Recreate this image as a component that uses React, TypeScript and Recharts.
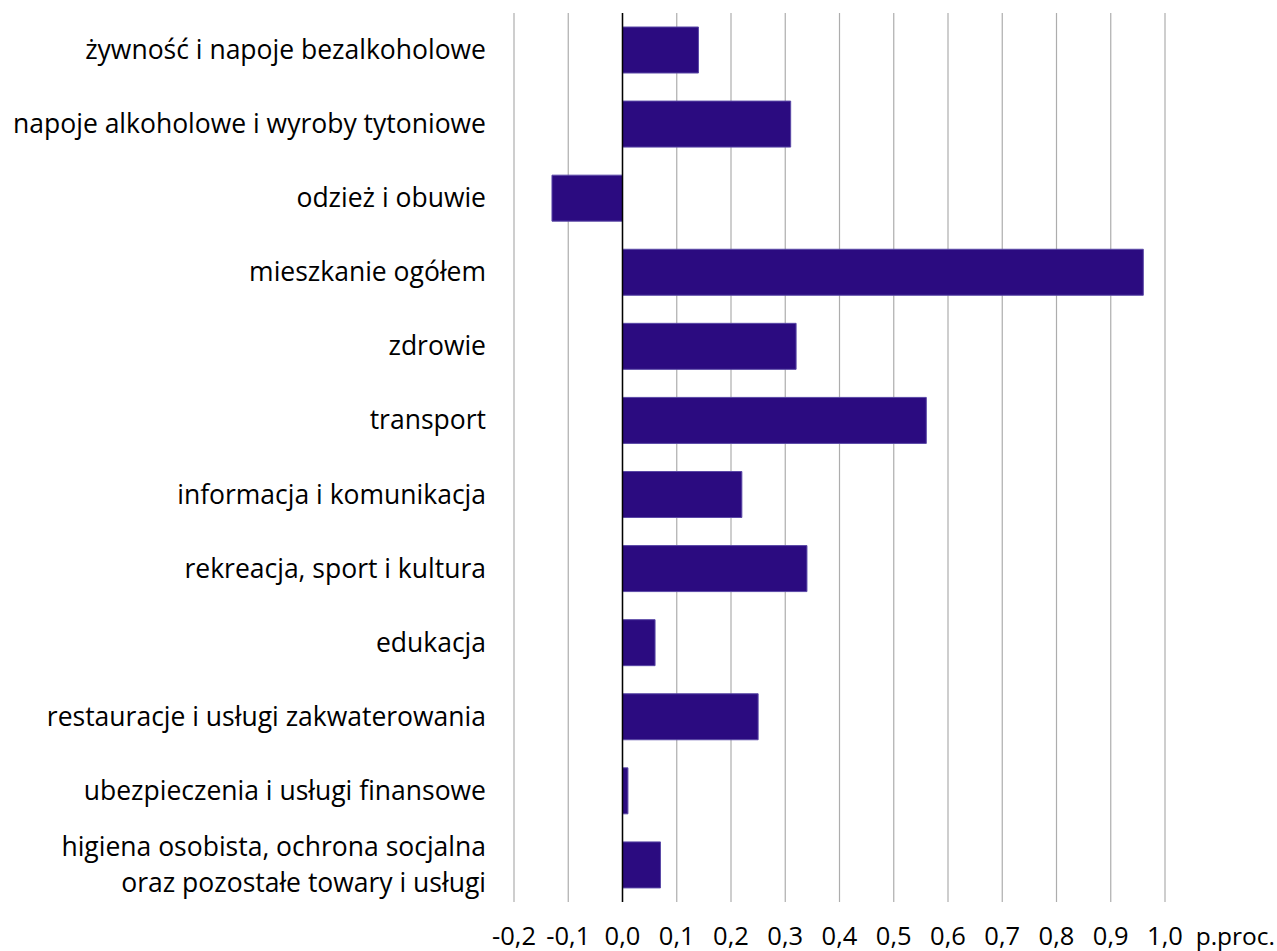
import React from 'react';
import { BarChart, Bar, XAxis, YAxis, CartesianGrid, ReferenceLine, Label } from 'recharts';

const categories: string[] = [
  'żywność i napoje bezalkoholowe',
  'napoje alkoholowe i wyroby tytoniowe',
  'odzież i obuwie',
  'mieszkanie ogółem',
  'zdrowie',
  'transport',
  'informacja i komunikacja',
  'rekreacja, sport i kultura',
  'edukacja',
  'restauracje i usługi zakwaterowania',
  'ubezpieczenia i usługi finansowe',
  'higiena osobista, ochrona socjalna\noraz pozostałe towary i usługi',
];

const values: number[] = [0.14, 0.31, -0.13, 0.96, 0.32, 0.56, 0.22, 0.34, 0.06, 0.25, 0.01, 0.07];

const xTicks: number[] = [-0.2, -0.1, 0.0, 0.1, 0.2, 0.3, 0.4, 0.5, 0.6, 0.7, 0.8, 0.9, 1.0];

const unitLabel = 'p.proc.';

const data = categories.map((c, i) => ({ name: c, value: values[i] }));

const FONT = '"Open Sans", sans-serif';

const fmt = (v: number) => v.toFixed(1).replace('.', ',');

const XTick = (props: any) => {
  const { x, y, payload } = props;
  return (
    <text x={x} y={y} dy={35} textAnchor="middle" fontFamily={FONT} fontSize={25.5} fill="#000">
      {fmt(payload.value)}
    </text>
  );
};

const YTick = (props: any) => {
  const { x, y, payload } = props;
  const lines = String(payload.value).split('\n');
  const lh = 36;
  const start = -((lines.length - 1) * lh) / 2;
  return (
    <text x={x} y={y} textAnchor="end" fontFamily={FONT} fontSize={26.5} fill="#000">
      {lines.map((l, i) => (
        <tspan key={i} x={x} dy={i === 0 ? start + 9 : lh}>
          {l}
        </tspan>
      ))}
    </text>
  );
};

const UnitLabel = (props: any) => {
  const vb = props.viewBox || {};
  return (
    <text x={vb.x + vb.width + 110} y={vb.y + 43} textAnchor="end" fontFamily={FONT} fontSize={24.5} fill="#000">
      {unitLabel}
    </text>
  );
};

export default function App() {
  return (
    <div style={{ position: 'absolute', left: 0, top: 0, width: 1277, height: 951, background: '#fff' }}>
      <BarChart
        width={1277}
        height={951}
        data={data}
        layout="vertical"
        margin={{ top: 13, right: 112, bottom: 19, left: 0 }}
        barSize={46}
      >
        <CartesianGrid horizontal={false} vertical={true} stroke="#adadad" strokeWidth={1.2} />
        <XAxis
          type="number"
          dataKey="value"
          domain={[-0.2, 1.0]}
          ticks={xTicks}
          interval={0}
          axisLine={false}
          tickLine={false}
          height={30}
          tick={<XTick />}
        >
          <Label content={<UnitLabel />} />
        </XAxis>
        <YAxis
          type="category"
          dataKey="name"
          width={514}
          axisLine={false}
          tickLine={false}
          tickMargin={22}
          interval={0}
          tick={<YTick />}
        />
        <Bar dataKey="value" fill="#2b0b80" stroke="#5a48a6" strokeWidth={1} isAnimationActive={false} />
        <ReferenceLine x={0} stroke="#000" strokeWidth={1.5} />
      </BarChart>
    </div>
  );
}
